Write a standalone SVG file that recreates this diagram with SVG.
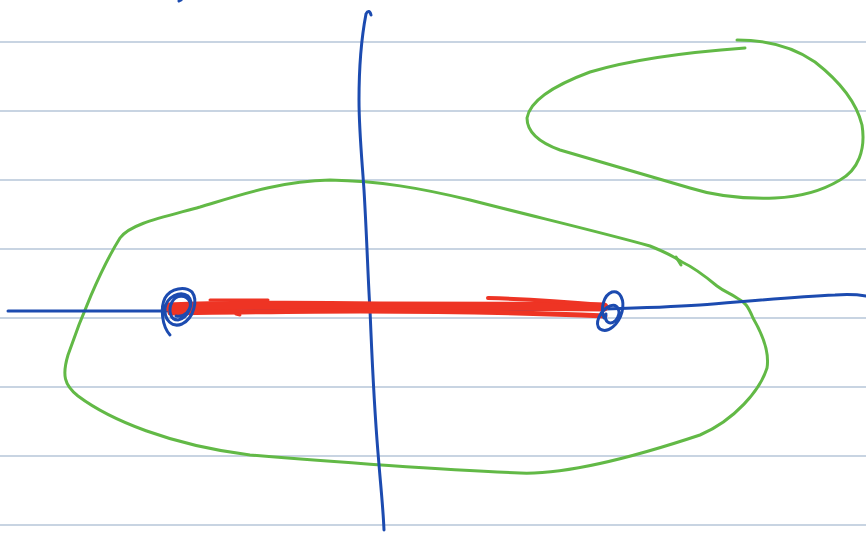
<svg xmlns="http://www.w3.org/2000/svg" width="866" height="536" viewBox="0 0 866 536">
<style>
.rule{stroke:#b6c6d9;stroke-width:1.3;fill:none}
.blue{stroke:#1c4bb0;stroke-width:3;fill:none;stroke-linecap:round;stroke-linejoin:round}
.green{stroke:#62b946;stroke-width:3;fill:none;stroke-linecap:round;stroke-linejoin:round}
.red{stroke:#ee3424;fill:none;stroke-linecap:round;stroke-linejoin:round}
</style>
<rect width="866" height="536" fill="#ffffff"/>
<g id="ruled-lines">
<line class="rule" x1="0" y1="42" x2="866" y2="42"/>
<line class="rule" x1="0" y1="111" x2="866" y2="111"/>
<line class="rule" x1="0" y1="180" x2="866" y2="180"/>
<line class="rule" x1="0" y1="249" x2="866" y2="249"/>
<line class="rule" x1="0" y1="318" x2="866" y2="318"/>
<line class="rule" x1="0" y1="387" x2="866" y2="387"/>
<line class="rule" x1="0" y1="456" x2="866" y2="456"/>
<line class="rule" x1="0" y1="525" x2="866" y2="525"/>
</g>
<g id="green-loops">
<path class="green" d="M330,180 C280,181 240,195 200,207 C160,218 130,224 120,238 C100,270 80,320 68,355 C62,375 64,385 78,396 C110,420 170,445 250,455 C330,462 450,470 520,473 C570,475 640,455 700,435 C735,420 760,390 767,368 C770,350 760,330 753,318 C748,306 745,302 737,298 C728,292 725,292 717,286 C705,276 695,268 682,262 C670,254 660,250 650,246 C600,232 540,218 470,200 C420,188 380,181 330,180 Z"/>
<path class="green" d="M676,257 L681,265"/>
<path class="green" d="M737,40 C770,40 795,48 815,62 C838,80 856,100 862,125 C866,150 858,170 840,180 C820,192 800,197 775,198 C745,199 715,196 690,188 C650,176 600,162 560,150 C535,141 527,130 527,118 C530,100 555,85 590,72 C630,60 690,52 745,48"/>
</g>
<g id="axes">
<path class="blue" d="M8,311 C60,311 110,311 165,311 C250,311 320,309 370,310 C450,310 540,310 605,309 C640,308 670,307 700,305 C740,302 790,297 835,295 C850,294 860,295 866,296"/>
<path class="blue" d="M371,15 C370,11 368,10 366,14 C361,40 359,70 359,100 C359,130 362,160 364,190 C367,240 368,280 370,310 C372,360 374,400 377,440 C380,480 383,505 384,530"/>
<path class="blue" d="M179,1 L181,0"/>
</g>
<g id="segment">
<path class="red" stroke-width="9" d="M168,307 C250,304 320,305 380,306 C450,306 530,306 604,307"/>
<path class="red" stroke-width="5" d="M170,313 C240,312 300,311 360,311 C450,311 540,313 605,316"/>
<path class="red" stroke-width="4" d="M488,298 C530,299 570,302 603,305"/>
<path class="red" stroke-width="3" d="M210,300 L268,300"/>
<path class="red" stroke-width="3" d="M236,314 L240,315"/>
</g>
<g id="endpoint-left">
<path class="blue" d="M170,335 C162,326 160,308 165,298 C171,288 185,286 192,292 C198,300 194,318 182,324 C172,328 164,320 165,308 C167,297 180,290 188,296 C195,303 188,318 178,320 C170,320 168,310 172,302 C176,295 186,294 190,302 C192,310 184,318 176,316"/>
</g>
<g id="endpoint-right">
<path class="blue" d="M604,318 C600,308 604,295 612,292 C620,290 625,300 622,312 C619,324 608,334 600,329 C594,324 600,310 610,306 C618,303 622,312 616,320 C610,326 604,322 606,314"/>
</g>
</svg>
